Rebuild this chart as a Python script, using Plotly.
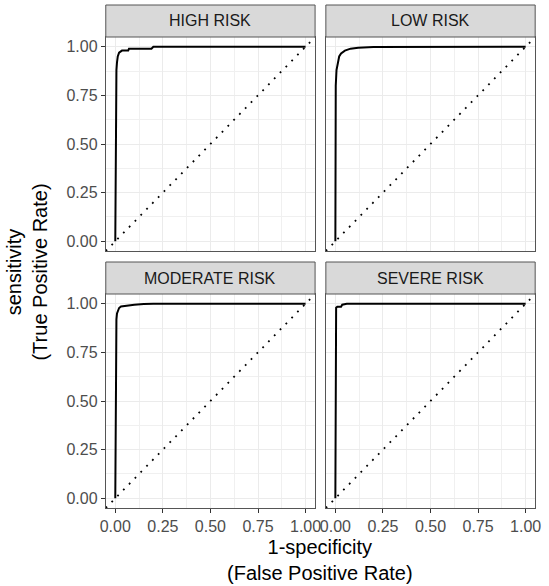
import plotly.graph_objects as go

# ---- data ----
panels = ["HIGH RISK", "LOW RISK", "MODERATE RISK", "SEVERE RISK"]

high_fpr = [0.0, 0.002, 0.004, 0.006, 0.009, 0.013, 0.02, 0.028, 0.035, 0.068, 0.072, 0.19, 0.2, 1.0]
high_tpr = [0.0, 0.50, 0.80, 0.88, 0.92, 0.95, 0.97, 0.978, 0.98, 0.98, 0.99, 0.99, 1.0, 1.0]

low_fpr = [0.0, 0.0, 0.002, 0.006, 0.012, 0.02, 0.03, 0.05, 0.08, 0.12, 0.2, 0.4, 1.0]
low_tpr = [0.0, 0.50, 0.80, 0.88, 0.92, 0.95, 0.965, 0.98, 0.99, 0.995, 0.998, 0.999, 1.0]

mod_fpr = [0.0, 0.002, 0.004, 0.006, 0.009, 0.014, 0.02, 0.03, 0.06, 0.1, 0.15, 0.2, 1.0]
mod_tpr = [0.0, 0.60, 0.85, 0.92, 0.95, 0.968, 0.978, 0.986, 0.99, 0.995, 0.998, 1.0, 1.0]

sev_fpr = [0.0, 0.002, 0.004, 0.01, 0.03, 0.036, 0.06, 1.0]
sev_tpr = [0.0, 0.90, 0.98, 0.985, 0.985, 0.995, 1.0, 1.0]

diag = [-0.05, 1.05]

tick_vals = [0.0, 0.25, 0.5, 0.75, 1.0]
tick_text = ["0.00", "0.25", "0.50", "0.75", "1.00"]

curves = [(high_fpr, high_tpr), (low_fpr, low_tpr), (mod_fpr, mod_tpr), (sev_fpr, sev_tpr)]

# ---- layout geometry ----
W, H = 549, 586
xdom = [(102 / W, 316 / W), (327 / W, 541 / W)]
ydom = [(1 - 251 / H, 1 - 37 / H), (1 - 508 / H, 1 - 294 / H)]
strip = [(1 - 37 / H, 1 - 5 / H), (1 - 294 / H, 1 - 262 / H)]

FONT = "Liberation Sans, Arial, sans-serif"

fig = go.Figure()
shapes = []
annotations = []

for i, name in enumerate(panels):
    r, c = divmod(i, 2)
    n = i + 1
    xa = "x" if n == 1 else f"x{n}"
    ya = "y" if n == 1 else f"y{n}"
    fx, fy = curves[i]
    fig.add_trace(go.Scatter(x=diag, y=diag, mode="lines", xaxis=xa, yaxis=ya,
                             line=dict(color="black", width=1.8, dash="1.8px,6.5px"),
                             showlegend=False, hoverinfo="skip"))
    fig.add_trace(go.Scatter(x=fx, y=fy, mode="lines", xaxis=xa, yaxis=ya,
                             line=dict(color="black", width=2),
                             showlegend=False))
    axcommon = dict(range=[-0.05, 1.05], tickvals=tick_vals, ticktext=tick_text,
                    showgrid=True, gridcolor="#ebebeb", gridwidth=1.2,
                    zeroline=False, showline=True, mirror=True,
                    linecolor="#555555", linewidth=1,
                    tickfont=dict(family=FONT, size=16, color="#4d4d4d"),
                    minor=dict(tick0=0.125, dtick=0.25, showgrid=True,
                               gridcolor="#f0f0f0", gridwidth=0.9),
                    fixedrange=True)
    xkey = "xaxis" if n == 1 else f"xaxis{n}"
    ykey = "yaxis" if n == 1 else f"yaxis{n}"
    xshow = (r == 1)
    yshow = (c == 0)
    fig.update_layout(**{
        xkey: dict(axcommon, domain=list(xdom[c]), anchor=ya,
                   showticklabels=xshow, ticks="outside" if xshow else "",
                   ticklen=4, tickcolor="#333333", tickwidth=1),
        ykey: dict(axcommon, domain=list(ydom[r]), anchor=xa,
                   showticklabels=yshow, ticks="outside" if yshow else "",
                   ticklen=4, tickcolor="#333333", tickwidth=1),
    })
    shapes.append(dict(type="rect", xref="paper", yref="paper",
                       x0=xdom[c][0], x1=xdom[c][1], y0=strip[r][0], y1=strip[r][1],
                       fillcolor="#d9d9d9", line=dict(color="#555555", width=1),
                       layer="above"))
    annotations.append(dict(text=name, xref="paper", yref="paper",
                            x=(xdom[c][0] + xdom[c][1]) / 2,
                            y=(strip[r][0] + strip[r][1]) / 2,
                            showarrow=False, xanchor="center", yanchor="middle",
                            font=dict(family=FONT, size=16, color="#1a1a1a")))

annotations.append(dict(text="1-specificity<br>(False Positive Rate)", xref="paper", yref="paper",
                        x=321.5 / W, y=1 - 560 / H, showarrow=False,
                        xanchor="center", yanchor="middle",
                        font=dict(family=FONT, size=20, color="black")))
annotations.append(dict(text="sensitivity<br>(True Positive Rate)", xref="paper", yref="paper",
                        x=21 / W, y=1 - 272 / H, showarrow=False, textangle=-90,
                        xanchor="center", yanchor="middle",
                        font=dict(family=FONT, size=20, color="black")))

fig.update_layout(width=W, height=H, margin=dict(l=0, r=0, t=0, b=0),
                  plot_bgcolor="white", paper_bgcolor="white",
                  shapes=shapes, annotations=annotations, showlegend=False)

fig.write_html("out.html", config={"displayModeBar": False},
               post_script="document.body.style.margin='0';document.body.style.overflow='hidden';")
